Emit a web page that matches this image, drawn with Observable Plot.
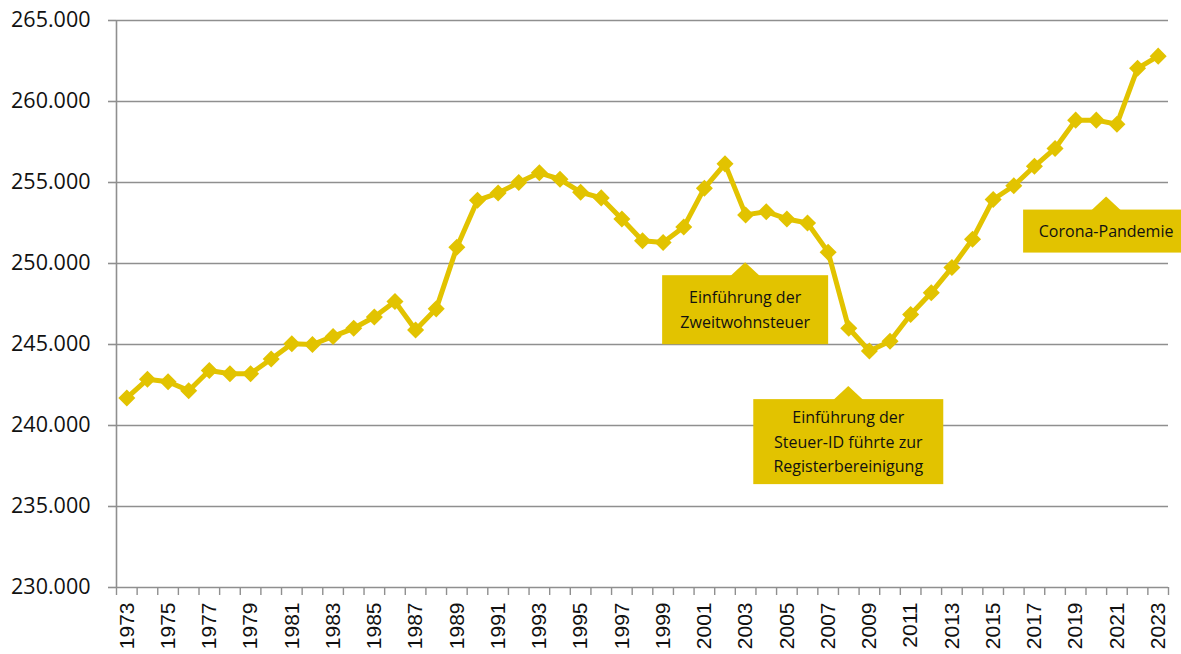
<!DOCTYPE html>
<html>
<head>
<meta charset="utf-8">
<script src="https://cdn.jsdelivr.net/npm/d3@7"></script>
<script src="https://cdn.jsdelivr.net/npm/@observablehq/plot@0.6"></script>
<style>
  html, body { margin: 0; padding: 0; background: #fff; overflow: hidden; }
  svg { overflow: hidden; }
</style>
</head>
<body>
<div id="chart"></div>
<script>
// ---- data ----
const years = [1973,1974,1975,1976,1977,1978,1979,1980,1981,1982,1983,1984,1985,1986,1987,1988,1989,1990,1991,1992,1993,1994,1995,1996,1997,1998,1999,2000,2001,2002,2003,2004,2005,2006,2007,2008,2009,2010,2011,2012,2013,2014,2015,2016,2017,2018,2019,2020,2021,2022,2023];
const values = [241700,242850,242700,242150,243400,243200,243200,244100,245050,245000,245500,246000,246700,247650,245900,247200,251000,253900,254350,255000,255600,255200,254400,254050,252750,251400,251300,252250,254650,256150,253000,253200,252750,252500,250700,246000,244600,245200,246850,248200,249750,251500,253950,254800,256000,257100,258850,258850,258600,262050,262800];
const yTicks = [230000,235000,240000,245000,250000,255000,260000,265000];
const xLabelYears = [1973,1975,1977,1979,1981,1983,1985,1987,1989,1991,1993,1995,1997,1999,2001,2003,2005,2007,2009,2011,2013,2015,2017,2019,2021,2023];
const noteYears = [2003, 2008, 2020.5];
const noteValues = [250050, 242400, 254100];
const noteTexts = [
  ["Einführung der", "Zweitwohnsteuer"],
  ["Einführung der", "Steuer-ID führte zur", "Registerbereinigung"],
  ["Corona-Pandemie"]
];

// ---- styles ----
const YELLOW = "#e2c300";
const GRAY = "#8f8f8f";
const noteBoxW = [166, 190, 166];
const noteBoxH = [69, 85, 43];

const data = years.map((y, i) => ({year: y, value: values[i]}));
const boundaries = years.map(y => y - 0.5).concat([years[years.length - 1] + 0.5]);
const xDomain = [years[0] - 0.5, years[years.length - 1] + 0.5];

const de = d3.formatLocale({decimal: ",", thousands: ".", grouping: [3], currency: ["", " €"]});
const fmt = de.format(",d");

const chart = Plot.plot({
  width: 1181,
  height: 654,
  marginLeft: 116,
  marginRight: 13,
  marginTop: 20,
  marginBottom: 67,
  style: {fontFamily: "'Open Sans', sans-serif", background: "#fff", color: "#111"},
  x: {type: "linear", domain: xDomain},
  y: {domain: [230000, 265000]},
  marks: [
    Plot.gridY(yTicks, {stroke: GRAY, strokeOpacity: 1, strokeWidth: 1.6}),
    Plot.axisY(yTicks, {tickSize: 8, tickPadding: 18, tickFormat: fmt, fontSize: 21.5, stroke: GRAY, strokeWidth: 1.6, label: null}),
    Plot.ruleX([xDomain[0]], {stroke: GRAY, strokeWidth: 1.6}),
    Plot.axisX(boundaries, {tickSize: 8, tickFormat: () => "", stroke: GRAY, strokeWidth: 1.4, label: null}),
    Plot.axisX(xLabelYears, {tickSize: 0, tickPadding: 15, tickRotate: -90, tickFormat: d => String(d), fontSize: 21, fontFamily: "'Liberation Sans', Arial, sans-serif", label: null}),
    Plot.lineY(data, {x: "year", y: "value", stroke: YELLOW, strokeWidth: 5, strokeLinejoin: "round"}),
    Plot.dot(data, {x: "year", y: "value", symbol: "square", rotate: 45, r: 6.8, fill: YELLOW, stroke: "none"})
  ]
});

document.getElementById("chart").appendChild(chart);

// ---- annotations (positioned through the plot's scales) ----
const sx = chart.scale("x"), sy = chart.scale("y");
const svg = d3.select(chart);
const g = svg.append("g").attr("font-family", "'Open Sans', sans-serif").attr("font-size", 16);
noteYears.forEach((yr, i) => {
  const cx = sx.apply(yr), ty = sy.apply(noteValues[i]);
  const triH = 13, triW = 15;
  const w = noteBoxW[i], h = noteBoxH[i];
  g.append("polygon")
    .attr("points", `${cx},${ty} ${cx - triW},${ty + triH + 1} ${cx + triW},${ty + triH + 1}`)
    .attr("fill", YELLOW);
  g.append("rect")
    .attr("x", cx - w / 2).attr("y", ty + triH).attr("width", w).attr("height", h)
    .attr("fill", YELLOW);
  const lines = noteTexts[i];
  const lh = 24.5;
  const mid = ty + triH + h / 2;
  lines.forEach((t, j) => {
    g.append("text")
      .attr("x", cx).attr("y", mid + (j - (lines.length - 1) / 2) * lh)
      .attr("text-anchor", "middle").attr("dominant-baseline", "central")
      .attr("fill", "#111")
      .text(t);
  });
});
</script>
</body>
</html>
